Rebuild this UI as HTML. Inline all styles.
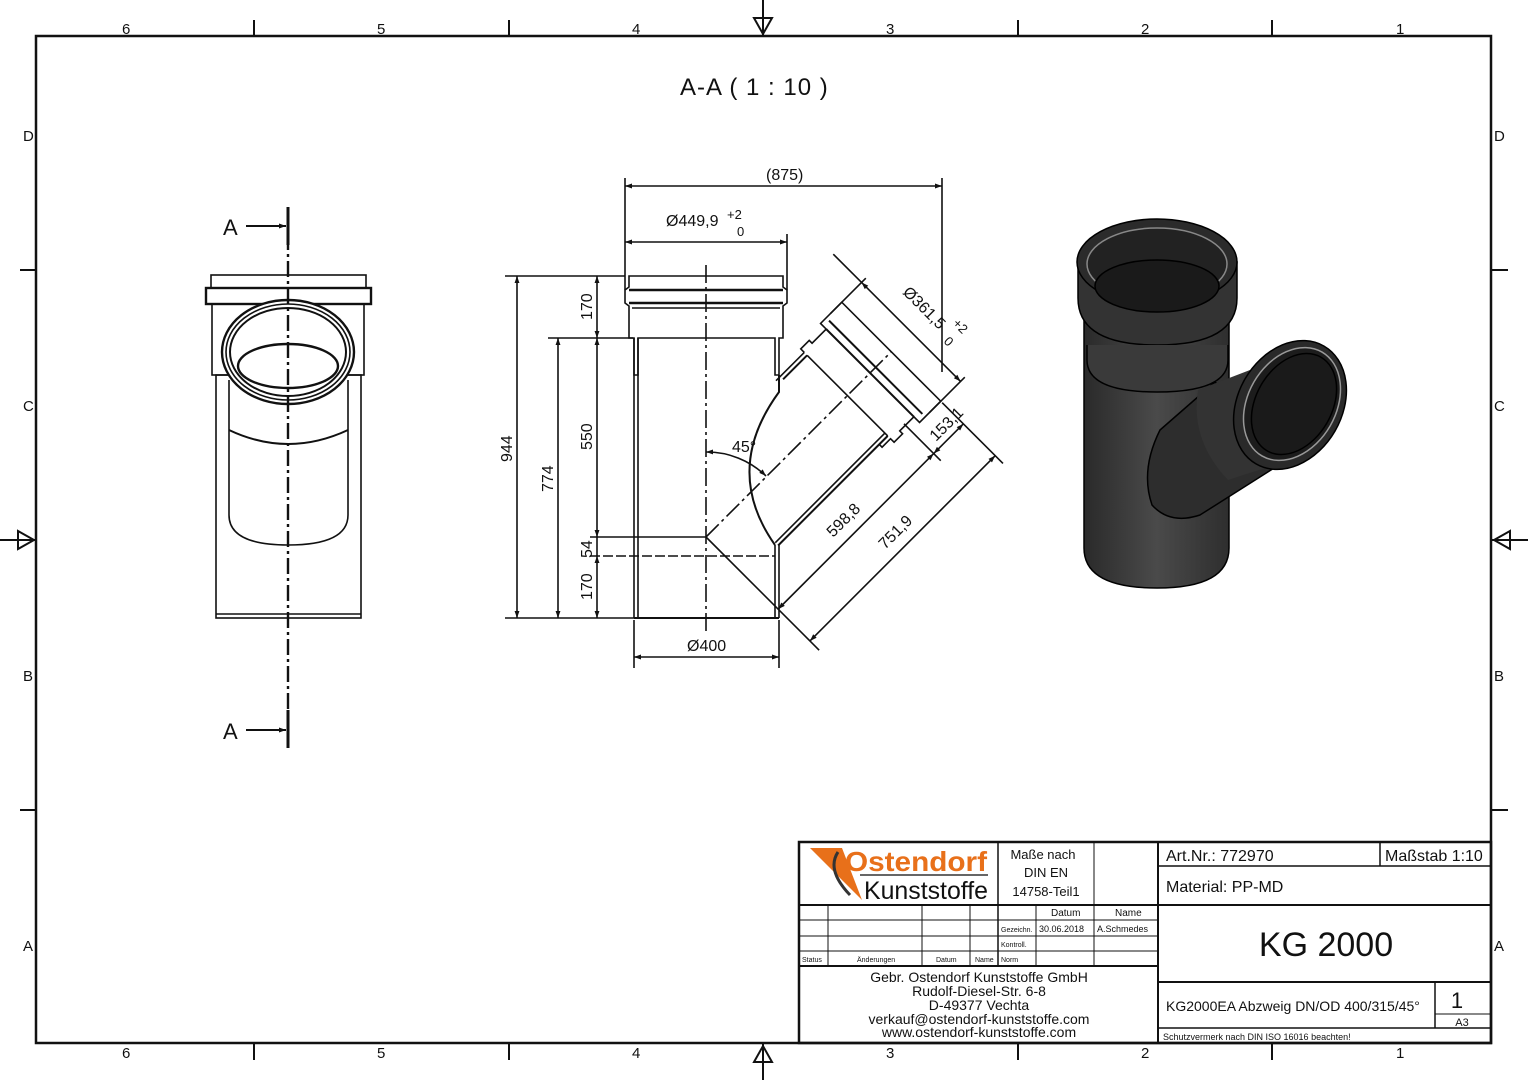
<!DOCTYPE html>
<html><head><meta charset="utf-8"><style>
html,body{margin:0;padding:0;background:#fff}
svg{display:block}
text{font-family:"Liberation Sans Narrow","Liberation Sans",sans-serif;fill:#111}
</style></head><body>
<svg width="1528" height="1080" viewBox="0 0 1528 1080" xmlns="http://www.w3.org/2000/svg">
<defs>
<marker id="ar" viewBox="0 0 10 10" refX="10" refY="5" markerWidth="10" markerHeight="7" orient="auto-start-reverse" markerUnits="userSpaceOnUse"><path d="M0,1.5 L10,5 L0,8.5 z" fill="#111"/></marker>
<linearGradient id="g1" x1="0" x2="1"><stop offset="0" stop-color="#2a2a2a"/><stop offset="0.5" stop-color="#4a4a4a"/><stop offset="1" stop-color="#2e2e2e"/></linearGradient>
</defs>
<g fill="none" stroke="#111">
<rect x="36" y="36" width="1455" height="1007" stroke-width="2.5"/>
<g stroke-width="2">
<line x1="254" y1="20" x2="254" y2="36"/><line x1="509" y1="20" x2="509" y2="36"/><line x1="1018" y1="20" x2="1018" y2="36"/><line x1="1272" y1="20" x2="1272" y2="36"/>
<line x1="254" y1="1043" x2="254" y2="1060"/><line x1="509" y1="1043" x2="509" y2="1060"/><line x1="1018" y1="1043" x2="1018" y2="1060"/><line x1="1272" y1="1043" x2="1272" y2="1060"/>
<line x1="20" y1="270" x2="36" y2="270"/><line x1="20" y1="810" x2="36" y2="810"/>
<line x1="1491" y1="270" x2="1508" y2="270"/><line x1="1491" y1="810" x2="1508" y2="810"/>
<line x1="763" y1="0" x2="763" y2="36"/><line x1="763" y1="1043" x2="763" y2="1080"/>
<line x1="0" y1="540" x2="36" y2="540"/><line x1="1491" y1="540" x2="1528" y2="540"/>
<path d="M754,18 L763,34 L772,18 Z"/><path d="M754,1062 L763,1046 L772,1062 Z"/>
<path d="M18,531 L34,540 L18,549 Z"/><path d="M1510,531 L1494,540 L1510,549 Z"/>
</g>
</g>
<g font-size="15">
<text x="122" y="34">6</text><text x="377" y="34">5</text><text x="632" y="34">4</text><text x="886" y="34">3</text><text x="1141" y="34">2</text><text x="1396" y="34">1</text>
<text x="122" y="1058">6</text><text x="377" y="1058">5</text><text x="632" y="1058">4</text><text x="886" y="1058">3</text><text x="1141" y="1058">2</text><text x="1396" y="1058">1</text>
<text x="23" y="141">D</text><text x="23" y="411">C</text><text x="23" y="681">B</text><text x="23" y="951">A</text>
<text x="1494" y="141">D</text><text x="1494" y="411">C</text><text x="1494" y="681">B</text><text x="1494" y="951">A</text>
</g>
<text x="680" y="95" font-size="24" letter-spacing="1">A-A ( 1 : 10 )</text>

<!-- LEFT VIEW -->
<g fill="none" stroke="#111" stroke-width="1.6">
<rect x="211" y="275" width="155" height="13"/>
<rect x="206" y="288" width="165" height="16" stroke-width="2.4"/>
<rect x="212" y="304" width="152" height="71"/>
<rect x="216" y="375" width="145" height="243"/>
<line x1="216" y1="614" x2="361" y2="614"/>
<path d="M229,380 L229,515 Q229,545 288,545 Q348,545 348,515 L348,380"/>
<path d="M229,430 Q288,458 348,430" stroke-width="2"/>
<ellipse cx="288" cy="352" rx="66" ry="52" fill="#fff" stroke-width="2.4"/>
<ellipse cx="288" cy="352" rx="62" ry="48"/>
<ellipse cx="288" cy="352" rx="58" ry="44" stroke-width="2"/>
<ellipse cx="288" cy="366" rx="50" ry="22" stroke-width="2.4"/>
<line x1="288" y1="207" x2="288" y2="748" stroke-dasharray="16,4,3,4" stroke-width="2.4"/>
<line x1="288" y1="207" x2="288" y2="245" stroke-width="3"/><line x1="288" y1="710" x2="288" y2="748" stroke-width="3"/>
<line x1="246" y1="226" x2="286" y2="226" marker-end="url(#ar)" stroke-width="2"/>
<line x1="246" y1="730" x2="286" y2="730" marker-end="url(#ar)" stroke-width="2"/>
</g>
<text x="223" y="235" font-size="22">A</text><text x="223" y="739" font-size="22">A</text>

<!-- SECTION VIEW -->
<g fill="none" stroke="#111" stroke-width="1.6">
<path d="M629,276 L783,276 L783,287 L787,290 L787,303 L783,306 L783,338 L779,338 L779,375 L775,375 L775,338 L638,338 L638,375 L634,375 L634,338 L629,338 L629,306 L625,303 L625,290 L629,287 Z"/>
<line x1="629" y1="290" x2="783" y2="290" stroke-width="2.4"/><line x1="629" y1="303" x2="783" y2="303" stroke-width="2.4"/>
<line x1="632" y1="308" x2="780" y2="308"/>
<line x1="634" y1="338" x2="634" y2="618"/><line x1="638" y1="338" x2="638" y2="618"/>
<line x1="775" y1="545" x2="775" y2="618"/><line x1="779" y1="545" x2="779" y2="618"/>
<line x1="634" y1="618" x2="779" y2="618" stroke-width="2"/>
<path d="M779,375 L779,392 Q722,470 775,545" stroke-width="2"/>
<g transform="translate(706,537) rotate(-45)">
<line x1="45" y1="57" x2="200" y2="57" stroke-width="2"/>
<line x1="45" y1="53" x2="200" y2="53"/>
<line x1="166" y1="-57" x2="200" y2="-57" stroke-width="2"/>
<path d="M160,-61 L200,-61"/>
<path d="M200,-61 L200,-66 L212,-66 L212,-62 L232,-62 L232,-70 L262,-70 L262,70 L232,70 L232,62 L212,62 L212,66 L200,66 L200,61 L188,61 L188,57"/>
<line x1="200" y1="-57" x2="200" y2="57"/>
<line x1="232" y1="-62" x2="232" y2="62" stroke-width="2"/>
<line x1="240" y1="-66" x2="240" y2="66" stroke-width="2"/>
<line x1="0" y1="0" x2="262" y2="0" stroke-dasharray="18,4,3,4"/>
<line x1="0" y1="0" x2="0" y2="160"/>
<line x1="220" y1="60" x2="220" y2="112"/>
<line x1="262" y1="72" x2="262" y2="158"/>
<line x1="0" y1="102" x2="220" y2="102" marker-start="url(#ar)" marker-end="url(#ar)"/>
<line x1="220" y1="102" x2="262" y2="102" marker-start="url(#ar)" marker-end="url(#ar)"/>
<line x1="0" y1="147" x2="262" y2="147" marker-start="url(#ar)" marker-end="url(#ar)"/>
<line x1="246" y1="-70" x2="296" y2="-70"/><line x1="246" y1="70" x2="296" y2="70"/>
<line x1="290" y1="-70" x2="290" y2="70" marker-start="url(#ar)" marker-end="url(#ar)"/>
<line x1="290" y1="-70" x2="290" y2="-110"/>
</g>
<line x1="706" y1="265" x2="706" y2="632" stroke-dasharray="18,4,3,4"/>
<path d="M706,452 A85,85 0 0 1 766,476" marker-start="url(#ar)" marker-end="url(#ar)"/>
<line x1="505" y1="276" x2="625" y2="276"/><line x1="548" y1="338" x2="633" y2="338"/>
<line x1="590" y1="537" x2="706" y2="537"/><line x1="590" y1="556" x2="775" y2="556" stroke-dasharray="10,3"/>
<line x1="505" y1="618" x2="634" y2="618"/>
<line x1="517" y1="276" x2="517" y2="618" marker-start="url(#ar)" marker-end="url(#ar)"/>
<line x1="558" y1="338" x2="558" y2="618" marker-start="url(#ar)" marker-end="url(#ar)"/>
<line x1="597" y1="276" x2="597" y2="338" marker-start="url(#ar)" marker-end="url(#ar)"/>
<line x1="597" y1="338" x2="597" y2="537" marker-start="url(#ar)" marker-end="url(#ar)"/>
<line x1="597" y1="537" x2="597" y2="556"/>
<line x1="597" y1="556" x2="597" y2="618" marker-start="url(#ar)" marker-end="url(#ar)"/>
<line x1="625" y1="178" x2="625" y2="290"/><line x1="942" y1="178" x2="942" y2="372"/>
<line x1="787" y1="234" x2="787" y2="290"/>
<line x1="625" y1="186" x2="942" y2="186" marker-start="url(#ar)" marker-end="url(#ar)"/>
<line x1="625" y1="242" x2="787" y2="242" marker-start="url(#ar)" marker-end="url(#ar)"/>
<line x1="634" y1="620" x2="634" y2="668"/><line x1="779" y1="620" x2="779" y2="668"/>
<line x1="634" y1="657" x2="779" y2="657" marker-start="url(#ar)" marker-end="url(#ar)"/>
</g>
<g font-size="16">
<text x="766" y="180">(875)</text>
<text x="666" y="226">Ø449,9</text><text x="727" y="219" font-size="13">+2</text><text x="737" y="236" font-size="13">0</text>
<text x="687" y="651">Ø400</text>
<text transform="translate(512,462) rotate(-90)">944</text>
<text transform="translate(553,492) rotate(-90)">774</text>
<text transform="translate(592,320) rotate(-90)">170</text>
<text transform="translate(592,450) rotate(-90)">550</text>
<text transform="translate(592,558) rotate(-90)">54</text>
<text transform="translate(592,600) rotate(-90)">170</text>
<text x="732" y="452">45°</text>
<text transform="translate(833,538) rotate(-45)">598,8</text>
<text transform="translate(885,550) rotate(-45)">751,9</text>
<text transform="translate(936,442) rotate(-45)">153,1</text>
<text transform="translate(902,293) rotate(45)">Ø361,5</text>
<text transform="translate(952,324) rotate(45)" font-size="13">+2</text>
<text transform="translate(943,342) rotate(45)" font-size="13">0</text>
</g>

<!-- 3D VIEW -->
<g stroke="#000" stroke-width="1.5">
<path d="M1084,282 L1084,548 Q1084,588 1157,588 Q1229,588 1229,548 L1229,282 Z" fill="url(#g1)"/>
<path d="M1078,262 L1078,298 Q1078,345 1157,345 Q1237,345 1237,298 L1237,262 Z" fill="#333"/>
<path d="M1087,345 L1087,360 Q1087,392 1157,392 Q1228,392 1228,360 L1228,345" fill="#3a3a3a"/>
<ellipse cx="1157" cy="262" rx="80" ry="43" fill="#2b2b2b"/>
<ellipse cx="1157" cy="264" rx="70" ry="36" fill="#222" stroke="#888"/>
<ellipse cx="1157" cy="286" rx="62" ry="26" fill="#1a1a1a"/>
<path d="M1215,382 L1160,430 Q1140,470 1152,505 Q1170,525 1200,515 L1290,458 Z" fill="#2d2d2d"/>
<path d="M1198,390 Q1190,440 1228,480 L1290,460 L1250,370 Z" fill="#333" stroke="none"/>
<ellipse cx="1290" cy="405" rx="52" ry="68" transform="rotate(30 1290 405)" fill="#2a2a2a"/>
<ellipse cx="1292" cy="404" rx="44" ry="60" transform="rotate(30 1292 404)" fill="#1c1c1c" stroke="#999"/>
<ellipse cx="1294" cy="404" rx="38" ry="54" transform="rotate(30 1294 404)" fill="#1a1a1a"/>
</g>

<!-- TITLE BLOCK -->
<g fill="none" stroke="#111" stroke-width="1">
<rect x="799" y="842" width="692" height="201" stroke-width="2.5"/>
<line x1="1158" y1="842" x2="1158" y2="1043" stroke-width="2"/>
<line x1="799" y1="905" x2="1158" y2="905" stroke-width="2"/>
<line x1="998" y1="842" x2="998" y2="966" stroke-width="1.5"/>
<line x1="1094" y1="842" x2="1094" y2="966"/>
<line x1="799" y1="920" x2="1158" y2="920"/><line x1="799" y1="936" x2="1158" y2="936"/>
<line x1="799" y1="951" x2="1158" y2="951"/>
<line x1="799" y1="966" x2="1158" y2="966" stroke-width="2"/>
<line x1="828" y1="905" x2="828" y2="966"/><line x1="922" y1="905" x2="922" y2="966"/>
<line x1="970" y1="905" x2="970" y2="966"/><line x1="1036" y1="905" x2="1036" y2="966"/>
<line x1="1158" y1="866" x2="1491" y2="866" stroke-width="1.5"/>
<line x1="1380" y1="842" x2="1380" y2="866" stroke-width="1.5"/>
<line x1="1158" y1="905" x2="1491" y2="905" stroke-width="2"/>
<line x1="1158" y1="982" x2="1491" y2="982" stroke-width="2"/>
<line x1="1435" y1="982" x2="1435" y2="1028" stroke-width="1.5"/>
<line x1="1435" y1="1014" x2="1491" y2="1014"/>
<line x1="1158" y1="1028" x2="1491" y2="1028" stroke-width="1.5"/>
</g>
<path d="M810,848 L842,848 L862,900 Z" fill="#e8701a"/>
<path d="M838,852 Q826,870 850,895" fill="none" stroke="#333" stroke-width="3"/>
<text x="845" y="871" font-size="28" font-weight="bold" style="fill:#e8701a" textLength="142" lengthAdjust="spacingAndGlyphs">Ostendorf</text>
<line x1="860" y1="875" x2="988" y2="875" stroke="#333" stroke-width="1.5"/>
<text x="864" y="899" font-size="25" textLength="124" lengthAdjust="spacingAndGlyphs">Kunststoffe</text>
<g font-size="13" text-anchor="middle">
<text x="1043" y="859">Maße nach</text><text x="1046" y="877">DIN EN</text><text x="1046" y="896">14758-Teil1</text>
</g>
<g font-size="10">
<text x="1051" y="916">Datum</text><text x="1115" y="916">Name</text>
<text x="1001" y="932" font-size="7">Gezeichn.</text><text x="1039" y="932" font-size="9">30.06.2018</text><text x="1097" y="932" font-size="9">A.Schmedes</text>
<text x="1001" y="947" font-size="7">Kontroll.</text><text x="1001" y="962" font-size="7">Norm</text>
<text x="802" y="962" font-size="7">Status</text><text x="857" y="962" font-size="7">Änderungen</text>
<text x="936" y="962" font-size="7">Datum</text><text x="975" y="962" font-size="7">Name</text>
</g>
<g font-size="14" text-anchor="middle">
<text x="979" y="982">Gebr. Ostendorf Kunststoffe GmbH</text>
<text x="979" y="996">Rudolf-Diesel-Str. 6-8</text>
<text x="979" y="1010">D-49377 Vechta</text>
<text x="979" y="1024">verkauf@ostendorf-kunststoffe.com</text>
<text x="979" y="1037">www.ostendorf-kunststoffe.com</text>
</g>
<text x="1166" y="861" font-size="16">Art.Nr.: 772970</text>
<text x="1385" y="861" font-size="16">Maßstab 1:10</text>
<text x="1166" y="892" font-size="16">Material: PP-MD</text>
<text x="1326" y="956" font-size="34" text-anchor="middle">KG 2000</text>
<text x="1166" y="1011" font-size="14">KG2000EA Abzweig DN/OD 400/315/45°</text>
<text x="1457" y="1008" font-size="22" text-anchor="middle">1</text>
<text x="1462" y="1026" font-size="11" text-anchor="middle">A3</text>
<text x="1163" y="1040" font-size="9">Schutzvermerk nach DIN ISO 16016 beachten!</text>
</svg>
</body></html>
